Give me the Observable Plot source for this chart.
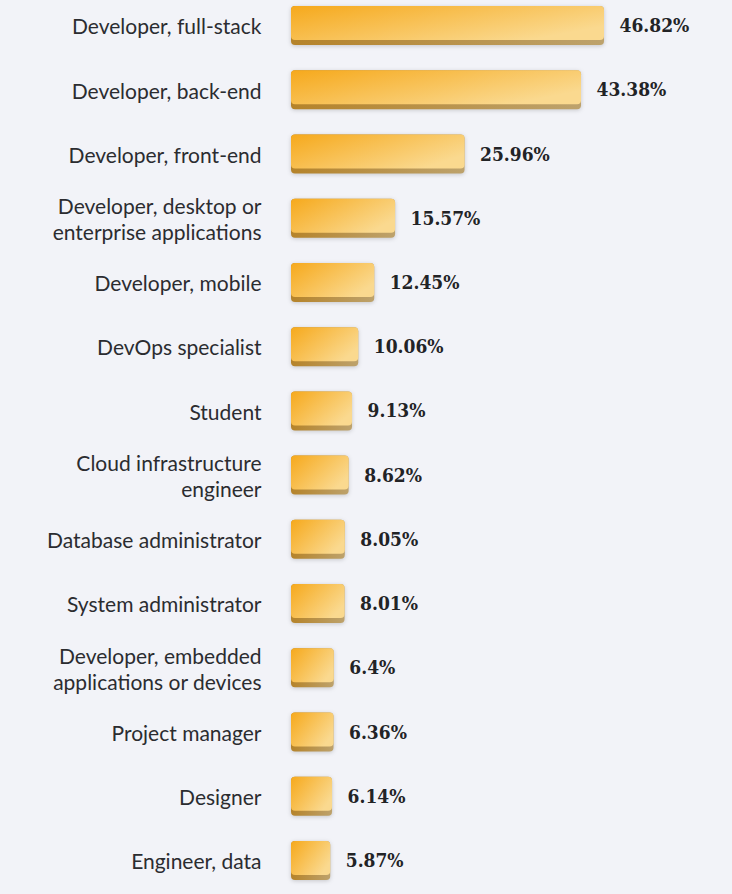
<!DOCTYPE html>
<html><head><meta charset="utf-8">
<script src="https://cdn.jsdelivr.net/npm/d3@7"></script>
<script src="https://cdn.jsdelivr.net/npm/@observablehq/plot@0.6"></script>
<style>
html,body{margin:0;padding:0;background:#F2F3F8;}
</style>
</head><body><div id="chart"></div>
<script>
const roles = [
  "Developer, full-stack",
  "Developer, back-end",
  "Developer, front-end",
  "Developer, desktop or enterprise applications",
  "Developer, mobile",
  "DevOps specialist",
  "Student",
  "Cloud infrastructure engineer",
  "Database administrator",
  "System administrator",
  "Developer, embedded applications or devices",
  "Project manager",
  "Designer",
  "Engineer, data"
];
const roleLabels = [
  "Developer, full-stack",
  "Developer, back-end",
  "Developer, front-end",
  "Developer, desktop or\nenterprise applications",
  "Developer, mobile",
  "DevOps specialist",
  "Student",
  "Cloud infrastructure\nengineer",
  "Database administrator",
  "System administrator",
  "Developer, embedded\napplications or devices",
  "Project manager",
  "Designer",
  "Engineer, data"
];
const shares = [46.82, 43.38, 25.96, 15.57, 12.45, 10.06, 9.13, 8.62, 8.05, 8.01, 6.4, 6.36, 6.14, 5.87];
const shareLabels = ["46.82%", "43.38%", "25.96%", "15.57%", "12.45%", "10.06%", "9.13%", "8.62%", "8.05%", "8.01%", "6.4%", "6.36%", "6.14%", "5.87%"];

const data = roles.map((r, i) => ({role: r, label: roleLabels[i], share: shares[i], text: shareLabels[i]}));

const svg = Plot.plot({
  width: 732,
  height: 894,
  marginLeft: 291,
  marginRight: 128,
  marginTop: 0,
  marginBottom: 8,
  style: {background: "#F2F3F8", overflow: "visible"},
  x: {domain: [0, 46.82], axis: null},
  y: {domain: roles, paddingInner: 0.393, paddingOuter: 0.0934, round: false, axis: null},
  marks: [
    Plot.barX(data, {x: "share", y: "role", fill: "url(#edgeGrad)", rx: 4}),
    Plot.barX(data, {x: "share", y: "role", fill: "url(#faceGrad)", rx: 4, insetBottom: 5}),
    Plot.text(data, {x: "share", y: "role", text: "text", dx: 15, textAnchor: "start",
      fontWeight: "bold", fontSize: 19, fill: "#222326",
      fontFamily: "'DejaVu Serif Condensed', 'DejaVu Serif', serif"}),
    Plot.text(data, {x: 0, y: "role", text: "label", dx: -30, textAnchor: "end",
      fontSize: 21, lineHeight: 1.24, fill: "#2b2c30", fontFamily: "Lato, 'Noto Sans', sans-serif"})
  ]
});

const defs = d3.select(svg).insert("defs", ":first-child");
const face = defs.append("linearGradient").attr("id", "faceGrad")
  .attr("x1", 0).attr("y1", 0).attr("x2", 1).attr("y2", 0.6);
face.append("stop").attr("offset", "0%").attr("stop-color", "#F6A91C");
face.append("stop").attr("offset", "100%").attr("stop-color", "#FAD98F");
const edge = defs.append("linearGradient").attr("id", "edgeGrad")
  .attr("x1", 0).attr("y1", 0).attr("x2", 1).attr("y2", 0);
edge.append("stop").attr("offset", "0%").attr("stop-color", "#B5832A");
edge.append("stop").attr("offset", "100%").attr("stop-color", "#BDA26C");

d3.select(svg).selectAll("g[aria-label='bar']").filter((d, i) => i === 0)
  .style("filter", "drop-shadow(0px 1px 2px rgba(0,0,0,0.18))");

document.getElementById("chart").appendChild(svg);
</script>
</body></html>
